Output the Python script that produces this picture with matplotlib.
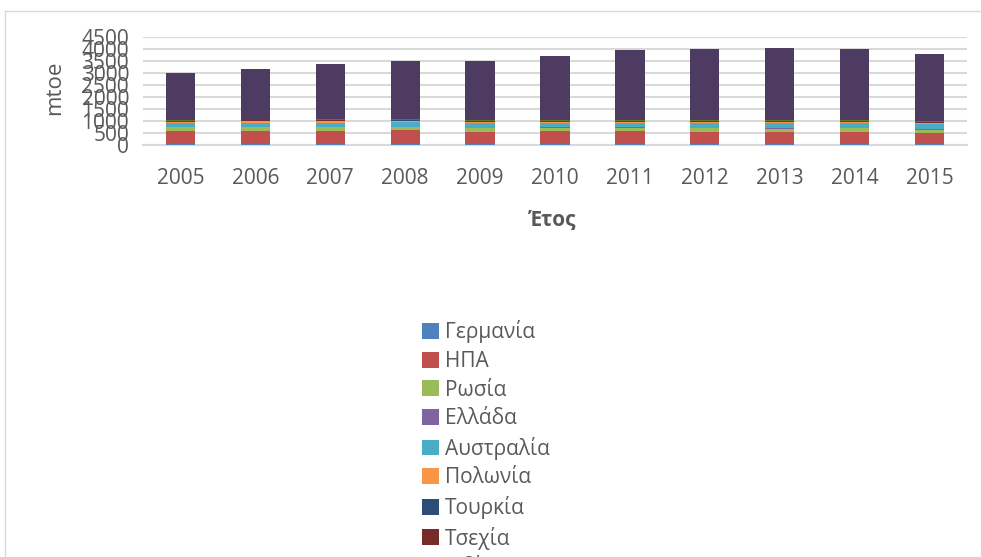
import matplotlib
matplotlib.use("Agg")
import matplotlib.pyplot as plt
from matplotlib.lines import Line2D
import numpy as np

plt.rcParams['font.family'] = ['Open Sans', 'DejaVu Sans']

years = ['2005', '2006', '2007', '2008', '2009', '2010', '2011', '2012', '2013', '2014', '2015']
countries = ['Γερμανία', 'ΗΠΑ', 'Ρωσία', 'Ελλάδα', 'Αυστραλία', 'Πολωνία',
             'Τουρκία', 'Τσεχία', 'Ινδία', 'Κίνα']
colors = ['#4F81BD', '#C0504D', '#9BBB59', '#8064A2', '#4BACC6', '#F79646',
          '#2C4D75', '#772C2A', '#5F7530', '#4D3B62']

germany   = [45, 45, 45, 45, 45, 45, 45, 45, 45, 45, 45]
usa       = [560, 570, 570, 580, 530, 540, 540, 500, 500, 500, 450]
russia    = [140, 140, 145, 150, 140, 150, 150, 160, 155, 160, 160]
greece    = [8, 8, 8, 8, 8, 8, 8, 8, 8, 8, 8]
australia = [170, 170, 180, 180, 190, 190, 190, 200, 210, 220, 210]
poland    = [60, 60, 60, 60, 55, 55, 55, 55, 55, 55, 50]
turkey    = [20, 20, 20, 20, 20, 20, 20, 20, 20, 20, 20]
czech     = [25, 25, 25, 25, 22, 22, 22, 22, 20, 20, 20]
india     = [30, 30, 30, 30, 30, 30, 30, 30, 30, 30, 30]
china     = [1950, 2120, 2300, 2420, 2460, 2640, 2900, 2960, 3000, 2960, 2830]

series = [germany, usa, russia, greece, australia, poland, turkey, czech, india, china]

fig = plt.figure(figsize=(9.81, 5.57), dpi=100)
ax = fig.add_axes([143/981, 1-145.3/557, 824/981, 108/557])

x = np.arange(len(years))
bottom = np.zeros(len(years))
for name, vals, c in zip(countries, series, colors):
    ax.bar(x, vals, width=0.39, bottom=bottom, color=c, label=name, zorder=3)
    bottom += np.array(vals)

ax.set_xlim(-0.5, len(years) - 0.5)
ax.set_ylim(0, 4500)
ax.set_yticks(np.arange(0, 4501, 500))
ax.set_xticks(x)
ax.set_xticklabels(years)
ax.grid(axis='y', color='#D9D9D9', linewidth=1.5, zorder=0)
for s in ['top', 'right', 'left']:
    ax.spines[s].set_visible(False)
ax.spines['bottom'].set_color('#D9D9D9')
ax.spines['bottom'].set_linewidth(1.5)
ax.tick_params(axis='both', length=0, labelsize=15, colors='#595959')
ax.tick_params(axis='x', pad=16)
ax.tick_params(axis='y', pad=10)

fig.text(55/981, 1-88/557, 'mtoe', rotation=90, ha='center', va='center',
         fontsize=16, color='#595959')
fig.text(553/981, 1-220/557, 'Έτος', ha='center', va='center',
         fontsize=15, fontweight='bold', color='#595959')

leg = fig.legend(loc='upper left', bbox_to_anchor=(414/981, 1-312/557),
                 frameon=False, fontsize=15, handlelength=0.8, handleheight=0.8,
                 handletextpad=0.3, labelspacing=0.365, borderaxespad=0)
for t in leg.get_texts():
    t.set_color('#595959')

fig.add_artist(Line2D([5/981, 1], [1-11/557, 1-11/557], color='#D9D9D9', linewidth=1))
fig.add_artist(Line2D([5/981, 5/981], [0, 1-11/557], color='#D9D9D9', linewidth=1))

fig.savefig('out.png', dpi=100)
